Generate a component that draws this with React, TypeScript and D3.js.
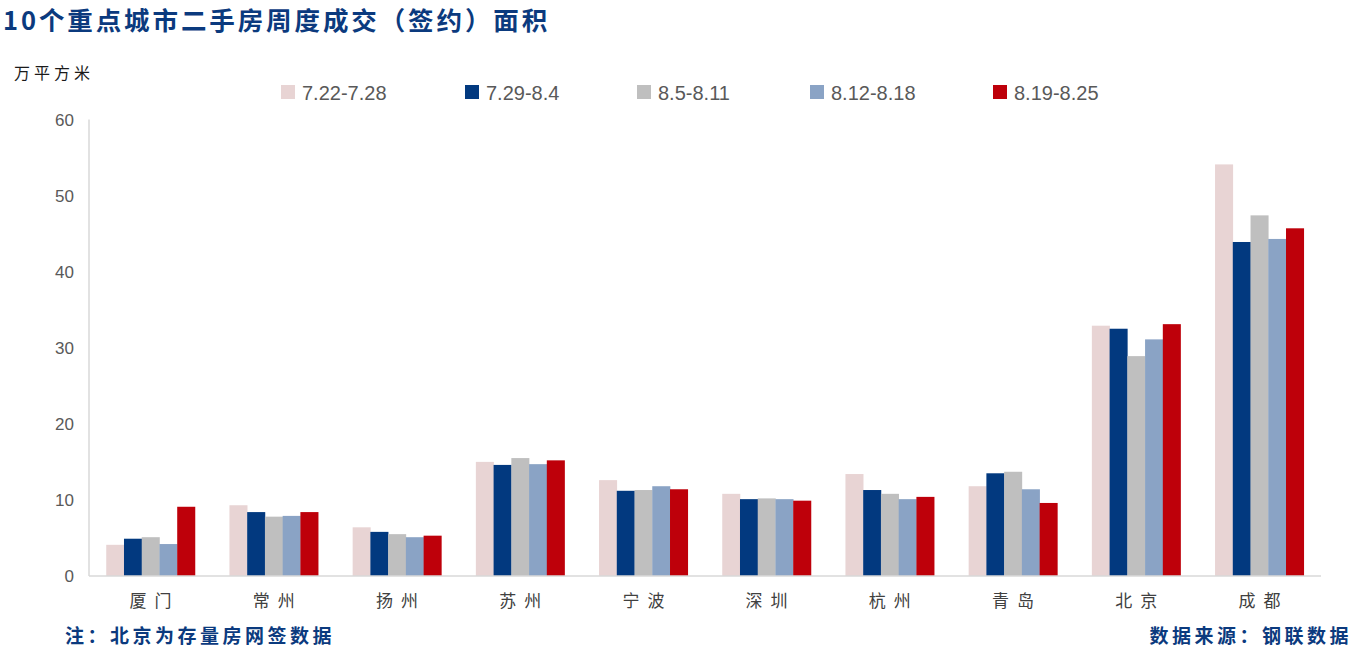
import React from "react";
import * as d3 from "d3";

const cities = ["厦门", "常州", "扬州", "苏州", "宁波", "深圳", "杭州", "青岛", "北京", "成都"];
const weeks = ["7.22-7.28", "7.29-8.4", "8.5-8.11", "8.12-8.18", "8.19-8.25"];
const colors = ["#e8d4d4", "#02397f", "#bfbfbf", "#8aa3c5", "#be000a"];

const w0722 = [4.1, 9.3, 6.4, 15.0, 12.6, 10.8, 13.4, 11.8, 32.9, 54.1];
const w0729 = [4.9, 8.4, 5.8, 14.6, 11.2, 10.1, 11.3, 13.5, 32.5, 43.9];
const w0805 = [5.1, 7.8, 5.5, 15.5, 11.3, 10.2, 10.8, 13.7, 28.9, 47.4];
const w0812 = [4.2, 7.9, 5.1, 14.7, 11.8, 10.1, 10.1, 11.4, 31.1, 44.3];
const w0819 = [9.1, 8.4, 5.3, 15.2, 11.4, 9.9, 10.4, 9.6, 33.1, 45.7];
const series = [w0722, w0729, w0805, w0812, w0819];

const yTicks = [0, 10, 20, 30, 40, 50, 60];

const W = 1357;
const H = 662;
const left = 89;
const right = 1321;
const top = 119.5;
const bottom = 576;

export default function App() {
  const x0 = d3.scaleBand<string>().domain(cities).range([left, right]).paddingInner(0.28).paddingOuter(0.14);
  const x1 = d3
    .scaleBand<number>()
    .domain(d3.range(weeks.length))
    .range([0, x0.bandwidth()])
    .padding(0);
  const y = d3.scaleLinear().domain([0, 60]).range([bottom, top]);

  const legendX = [281, 465, 637, 810, 993];
  const cjk = "'Noto Sans CJK SC', sans-serif";

  return (
    <svg
      width={W}
      height={H}
      style={{ position: "absolute", left: 0, top: 0, background: "#fff" }}
    >
      <text x={3} y={30} fontFamily={cjk} fontWeight="bold" fontSize={25.5} letterSpacing={2.9} fill="#0b3a7e">
        10个重点城市二手房周度成交（签约）面积
      </text>
      <text x={14} y={79} fontFamily={cjk} fontSize={16} letterSpacing={4} fill="#1a1a1a">
        万平方米
      </text>

      {/* Legend */}
      {weeks.map((wk, i) => (
        <g key={wk} transform={`translate(${legendX[i]},85)`}>
          <rect x={0} y={0} width={14} height={14} fill={colors[i]} />
          <text x={21} y={15} fontFamily="'Liberation Sans', Arial, sans-serif" fontSize={20} fill="#595959">
            {wk}
          </text>
        </g>
      ))}

      {/* Y axis */}
      <line x1={left} x2={left} y1={top} y2={bottom} stroke="#d9d9d9" strokeWidth={1.5} />
      {yTicks.map((t) => (
        <text
          key={t}
          x={74}
          y={y(t) + 6}
          textAnchor="end"
          fontFamily="'Liberation Sans', Arial, sans-serif"
          fontSize={17}
          fill="#595959"
        >
          {t}
        </text>
      ))}

      {/* Bars */}
      {cities.map((c, ci) => (
        <g key={c} transform={`translate(${x0(c)},0)`}>
          {series.map((s, si) => (
            <rect
              key={si}
              x={x1(si)}
              y={y(s[ci])}
              width={x1.bandwidth() + 0.3}
              height={bottom - y(s[ci])}
              fill={colors[si]}
            />
          ))}
          <text
            x={x0.bandwidth() / 2 + 4}
            y={607}
            textAnchor="middle"
            fontFamily={cjk}
            fontSize={17}
            letterSpacing={8}
            fill="#404040"
          >
            {c}
          </text>
        </g>
      ))}

      {/* X axis */}
      <line x1={left} x2={right} y1={bottom} y2={bottom} stroke="#d9d9d9" strokeWidth={1.5} />

      {/* Footer */}
      <text x={65} y={643} fontFamily={cjk} fontWeight="bold" fontSize={19} letterSpacing={3.5} fill="#0b3a7e">
        注：北京为存量房网签数据
      </text>
      <text x={1352} y={643} textAnchor="end" fontFamily={cjk} fontWeight="bold" fontSize={19} letterSpacing={3.5} fill="#0b3a7e">
        数据来源：钢联数据
      </text>
    </svg>
  );
}
